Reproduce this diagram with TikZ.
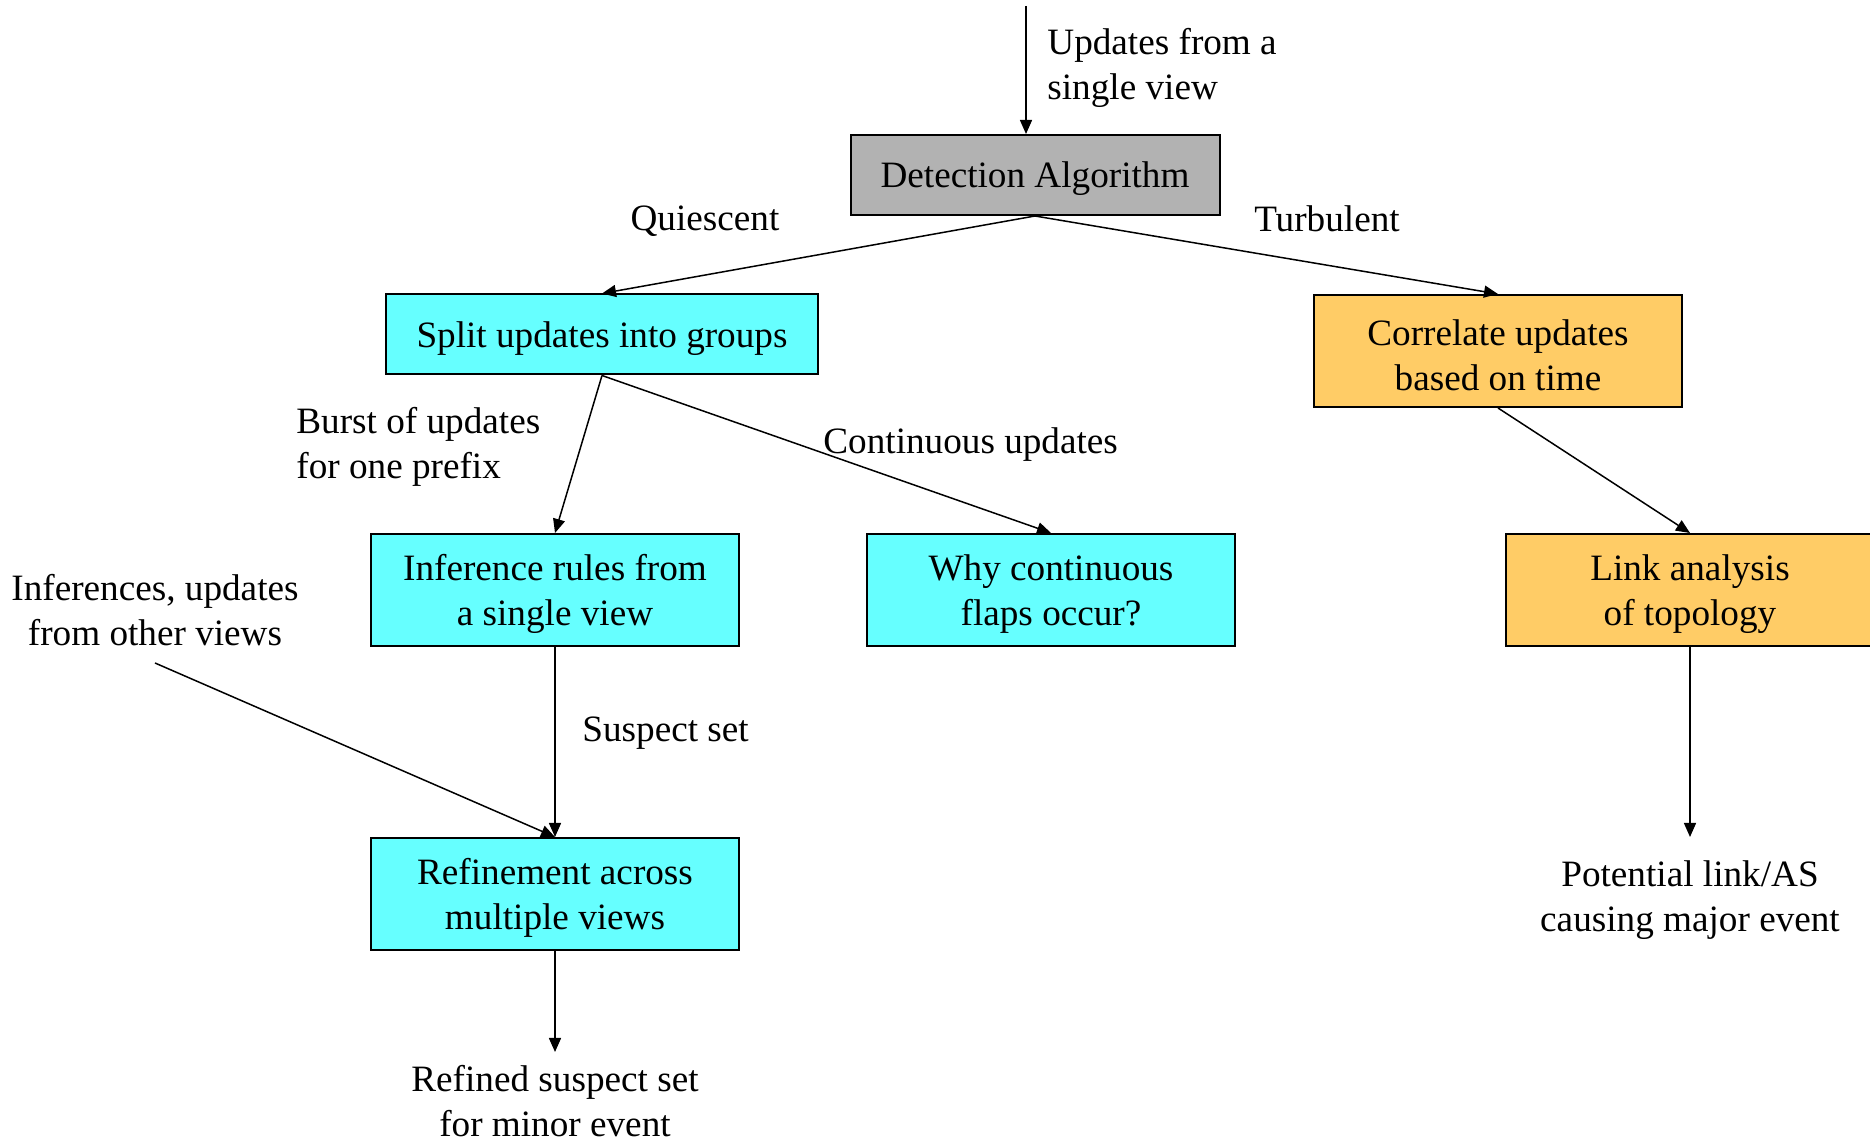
\documentclass[tikz,border=0pt]{standalone}
\usepackage{fontspec}
\setmainfont{Liberation Serif}
\usetikzlibrary{arrows.meta}

\definecolor{boxgray}{RGB}{178,178,178}
\definecolor{boxcyan}{RGB}{102,255,255}
\definecolor{boxorange}{RGB}{255,204,102}

\tikzset{
  every node/.append style={font=\fontsize{18.6pt}{22.4pt}\selectfont},
  box/.style={draw=black, line width=1pt, inner sep=0pt,
              minimum width=184pt, minimum height=56pt},
  wide/.style={minimum height=40pt},
  lbl/.style={inner sep=0pt, align=center},
  boxtext/.style={lbl, yshift=-2pt},
  conn/.style={line width=0.75pt, -{Triangle[length=7pt,width=6pt]}}
}

\begin{document}
\begin{tikzpicture}[x=0.5pt, y=-0.5pt]
  \useasboundingbox (0,0) rectangle (1870,1143);

  % process boxes, text set a little below the box centre
  \node[box, wide, fill=boxgray, minimum width=184.5pt,
        label={[boxtext]center:Detection Algorithm}] (det) at (1035,175) {};
  \node[box, wide, fill=boxcyan, minimum width=216pt,
        label={[boxtext]center:Split updates into groups}] (split) at (602,334.5) {};
  \node[box, fill=boxorange,
        label={[boxtext]center:{Correlate updates\\based on time}}] (corr) at (1498,351) {};
  \node[box, fill=boxcyan,
        label={[boxtext]center:{Inference rules from\\a single view}}] (infer) at (555,590) {};
  \node[box, fill=boxcyan,
        label={[boxtext]center:{Why continuous\\flaps occur?}}] (why) at (1051,590) {};
  \node[box, fill=boxorange,
        label={[boxtext]center:{Link analysis\\of topology}}] (link) at (1690,590) {};
  \node[box, fill=boxcyan,
        label={[boxtext]center:{Refinement across\\multiple views}}] (refine) at (555,894) {};

  % free text
  \node[lbl, anchor=west, align=left] (upd) at (1047,68) {Updates from a\\single view};
  \node[lbl] (quiet) at (705,221) {Quiescent};
  \node[lbl] (turb) at (1327,219) {Turbulent};
  \node[lbl, anchor=west, align=left] (burst) at (296,447) {Burst of updates\\for one prefix};
  \node[lbl, anchor=west] (cont) at (823,445) {Continuous updates};
  \node[lbl] (other) at (155,610) {Inferences, updates\\from other views};
  \node[lbl, anchor=west] (susp) at (582,733) {Suspect set};
  \node[lbl] (refined) at (555,1101) {Refined suspect set\\for minor event};
  \node[lbl] (potential) at (1690,900) {Potential link/AS\\causing major event};

  % loose ends of connectors
  \coordinate (src) at (1026,6);
  \coordinate (otherend) at (155,663);
  \coordinate (refinedtip) at (555,1052);
  \coordinate (potentialtip) at (1690,837);

  % connectors
  \draw[conn] (src) -- (src |- det.north);
  \draw[conn] (det.south) -- (split.north);
  \draw[conn] (det.south) -- (corr.north);
  \draw[conn] (split.south) -- (infer.north);
  \draw[conn] (split.south) -- (why.north);
  \draw[conn] (corr.south) -- (link.north);
  \draw[conn] (infer.south) -- (refine.north);
  \draw[conn] (otherend) -- (refine.north);
  \draw[conn] (refine.south) -- (refinedtip);
  \draw[conn] (link.south) -- (potentialtip);
\end{tikzpicture}
\end{document}
